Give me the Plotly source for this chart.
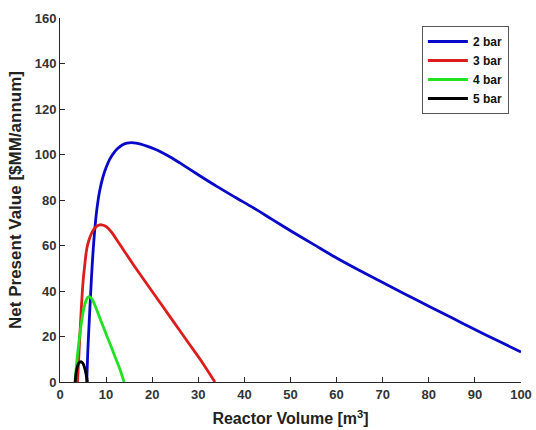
import plotly.graph_objects as go

# Net present value vs. reactor volume at four operating pressures
vol_2bar = [5.8, 6.0, 6.3, 6.6, 7.0, 7.5, 8.0, 8.6, 9.3, 10.0, 10.8, 11.6, 12.5, 13.5, 14.5,
            15.5, 16.5, 17.5, 19, 20.5, 22, 24, 26, 28, 31, 34, 38, 42, 46, 50, 55, 60,
            65, 70, 75, 80, 85, 90, 95, 100]
npv_2bar = [0, 12, 25, 37, 52, 66, 76, 84, 90, 94.3, 98, 100.5, 102.6, 104.2, 105,
            105.2, 105, 104.6, 103.6, 102.4, 101, 98.8, 96.3, 93.7, 89.8, 86, 81.2, 76.5,
            71.5, 66.5, 60.5, 54.5, 49, 43.7, 38.5, 33.3, 28.2, 23.1, 18.1, 13.2]

vol_3bar = [3.8, 4.1, 4.4, 4.7, 5.0, 5.4, 5.8, 6.3, 7.0, 7.8, 8.5, 9.0, 9.8, 10.6, 11.4,
            12.3, 14, 16, 20, 24, 28, 30.4, 33.6]
npv_3bar = [0, 12, 24, 35, 44, 52, 58.5, 62.5, 66, 68.2, 69, 69.1, 68.6, 67.3, 65.3,
            62.5, 57.4, 51.3, 39.8, 28.3, 16.8, 10, 0]

vol_4bar = [3.25, 3.5, 3.8, 4.1, 4.4, 4.8, 5.2, 5.6, 6.1, 6.6, 7.2, 8.0, 9.0, 10.1, 11.0,
            12.0, 13.0, 13.9]
npv_4bar = [0, 6, 12, 17.5, 22.5, 28, 32.5, 35.6, 37.4, 37.2, 35.5, 31.5, 26.3, 20.6, 16,
            10.8, 5.6, 0]

vol_5bar = [3.3, 3.5, 3.8, 4.1, 4.55, 5.0, 5.3, 5.6, 5.95]
npv_5bar = [0, 4, 7, 8.4, 8.9, 8.1, 6.5, 4.0, 0]

series = [
    ("2 bar", vol_2bar, npv_2bar, "#0808c8"),
    ("3 bar", vol_3bar, npv_3bar, "#dd1c1c"),
    ("4 bar", vol_4bar, npv_4bar, "#22e022"),
    ("5 bar", vol_5bar, npv_5bar, "#000000"),
]

x_ticks = list(range(0, 101, 10))
y_ticks = list(range(0, 161, 20))

fig = go.Figure()
for name, xs, ys, color in series:
    fig.add_trace(go.Scatter(
        x=xs, y=ys, mode="lines", name=name,
        line=dict(color=color, width=2.8, shape="spline", smoothing=0.8),
    ))

axis_common = dict(
    showgrid=False, zeroline=False, showline=True, linecolor="#262626", linewidth=1,
    ticks="inside", ticklen=5, tickcolor="#262626", mirror=False, automargin=False,
    tickfont=dict(family="Liberation Sans, Arial, sans-serif", size=13,
                  color="#333333", weight="bold"),
)

fig.update_layout(
    width=536, height=430,
    margin=dict(l=60, r=15, t=18, b=48),
    paper_bgcolor="white", plot_bgcolor="white",
    font=dict(family="Liberation Sans, Arial, sans-serif"),
    xaxis=dict(
        range=[0, 100], tickvals=x_ticks,
        title=dict(text="Reactor Volume [m<sup>3</sup>]", standoff=12,
                   font=dict(size=16, color="#222222", weight="bold")),
        **axis_common,
    ),
    yaxis=dict(
        range=[0, 160], tickvals=y_ticks,
        title=dict(text="Net Present Value [$MM/annum]", standoff=8,
                   font=dict(size=17, color="#222222", weight="bold")),
        **axis_common,
    ),
    legend=dict(
        x=0.785, y=0.978, xanchor="left", yanchor="top",
        bgcolor="white", bordercolor="#555555", borderwidth=1,
        font=dict(size=12, color="#111111", weight="bold"),
        itemwidth=40, tracegroupgap=0,
    ),
    showlegend=True,
)

fig.write_html("out.html")
